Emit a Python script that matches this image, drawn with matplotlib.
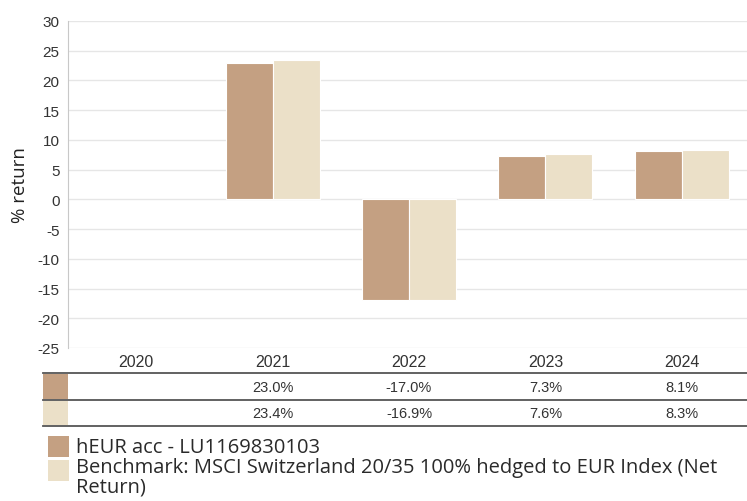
import matplotlib
matplotlib.use('Agg')
from matplotlib import pyplot as plt
from matplotlib.patches import Rectangle
from matplotlib.lines import Line2D
import matplotlib.transforms as mtransforms
import numpy as np

plt.rcParams['axes.unicode_minus'] = False

years = ['2020', '2021', '2022', '2023', '2024']
fund = [np.nan, 23.0, -17.0, 7.3, 8.1]
bench = [np.nan, 23.4, -16.9, 7.6, 8.3]
fund_name = 'hEUR acc - LU1169830103'
bench_name = 'Benchmark: MSCI Switzerland 20/35 100% hedged to EUR Index (Net\nReturn)'

c_fund = '#C4A082'
c_bench = '#EBE0C8'

W, H = 747, 502
fig = plt.figure(figsize=(W / 100, H / 100), dpi=100)
ax = fig.add_axes([68 / W, (H - 349) / H, 682 / W, 327 / H])

x = np.arange(len(years))
bw = 0.345
ax.bar(x - bw / 2, fund, bw, color=c_fund, edgecolor='white', linewidth=0.8, zorder=3)
ax.bar(x + bw / 2, bench, bw, color=c_bench, edgecolor='white', linewidth=0.8, zorder=3)

ax.set_xlim(-0.5, len(years) - 0.5)
ax.set_ylim(-25, 30)
ax.set_yticks(np.arange(-25, 31, 5))
ax.grid(axis='y', color='#e6e6e6', linewidth=1, zorder=0)
ax.set_axisbelow(True)
for s in ['top', 'right', 'bottom']:
    ax.spines[s].set_visible(False)
ax.spines['left'].set_color('#c8c8c8')
ax.tick_params(axis='y', length=0, pad=6, labelsize=11, labelcolor='#333333')
ax.tick_params(axis='x', length=0, pad=4, labelsize=11.5, labelcolor='#333333')
ax.set_xticks(x)
ax.set_xticklabels(years)
for lab in ax.get_yticklabels() + ax.get_xticklabels():
    lab.set_family('Liberation Sans')
ax.set_ylabel('% return', family='Open Sans', fontsize=13.5, color='#222222', labelpad=6)

# table under the chart
trans = mtransforms.blended_transform_factory(ax.transData, fig.transFigure)
for yy in [374, 401, 427]:
    fig.add_artist(Line2D([43 / W, 1], [1 - yy / H] * 2, color='#555555', linewidth=1.3))
fig.add_artist(Rectangle((43 / W, 1 - 400 / H), 25 / W, 25 / H, color=c_fund, linewidth=0))
fig.add_artist(Rectangle((43 / W, 1 - 426 / H), 25 / W, 24 / H, color=c_bench, linewidth=0))
for i in range(len(years)):
    if not np.isnan(fund[i]):
        ax.text(x[i], 1 - 388 / H, f'{fund[i]:.1f}%', transform=trans, ha='center', va='center',
                family='Liberation Sans', fontsize=10.5, color='#333333')
        ax.text(x[i], 1 - 414 / H, f'{bench[i]:.1f}%', transform=trans, ha='center', va='center',
                family='Liberation Sans', fontsize=10.5, color='#333333')

# legend
fig.add_artist(Rectangle((48 / W, 1 - 458 / H), 21 / W, 21 / H, color=c_fund, linewidth=0))
fig.add_artist(Rectangle((48 / W, 1 - 482 / H), 21 / W, 21 / H, color=c_bench, linewidth=0))
fig.text(76 / W, 1 - 448 / H, fund_name, family='Open Sans', fontsize=14.5, color='#2a2a2a', va='center')
fig.text(76 / W, 1 - 458 / H, bench_name, family='Open Sans', fontsize=14.5, color='#2a2a2a', va='top',
         linespacing=1.0)

fig.savefig('out.png', dpi=100)
